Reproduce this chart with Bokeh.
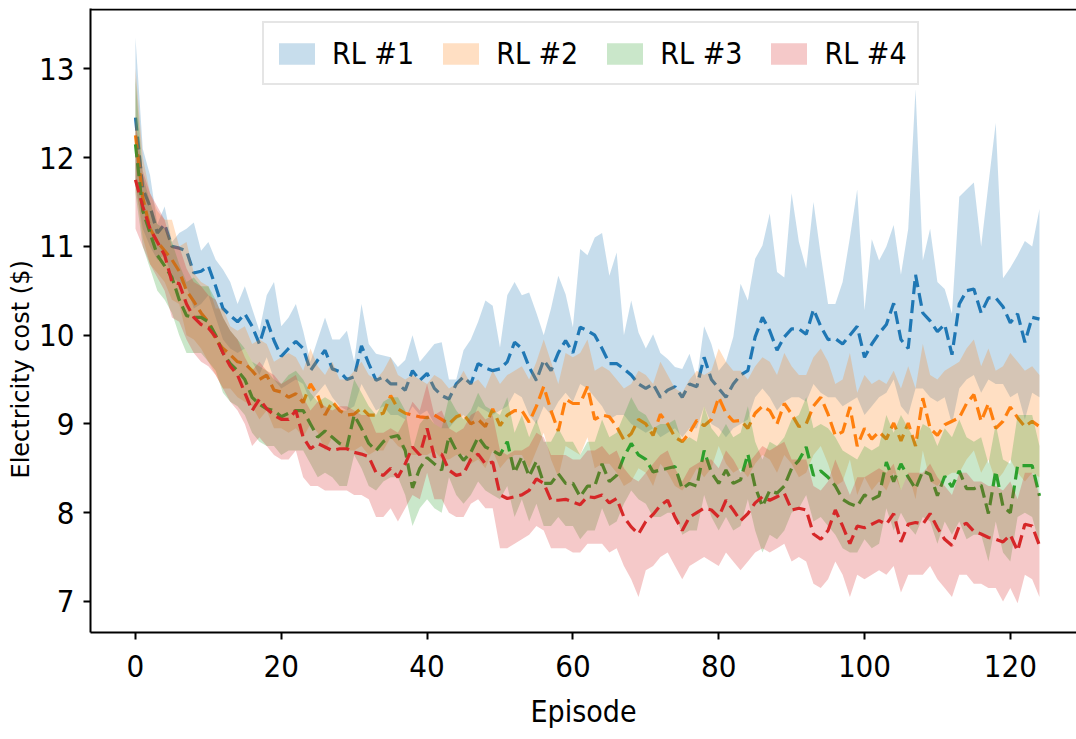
from bokeh.plotting import figure
from bokeh.models import Range1d, FixedTicker, Span, ColumnDataSource, Title
from bokeh.embed import file_html
from bokeh.resources import INLINE

episodes = list(range(125))
x_ticks = [0, 20, 40, 60, 80, 100, 120]
y_ticks = [7, 8, 9, 10, 11, 12, 13]
labels = ["RL #1", "RL #2", "RL #3", "RL #4"]
colors = ["#1f77b4", "#ff7f0e", "#2ca02c", "#d62728"]

rl1_mean = [12.45, 11.65, 11.45, 11.15, 11.25, 11.0, 10.98, 10.95, 10.7, 10.72,
            10.78, 10.55, 10.3, 10.22, 10.15, 10.24, 10.1, 9.9, 10.17, 9.94,
            9.76, 9.85, 9.93, 9.85, 9.6, 9.72, 9.83, 9.62, 9.59, 9.5,
            9.53, 9.88, 9.68, 9.49, 9.53, 9.45, 9.45, 9.38, 9.6, 9.49,
            9.57, 9.4, 9.32, 9.28, 9.45, 9.53, 9.45, 9.68, 9.63, 9.6,
            9.62, 9.7, 9.92, 9.85, 9.64, 9.49, 9.72, 9.6, 9.8, 9.94,
            9.8, 10.09, 10.05, 10.0, 9.85, 9.68, 9.68, 9.62, 9.55, 9.45,
            9.4, 9.45, 9.3, 9.38, 9.42, 9.3, 9.45, 9.42, 9.75, 9.5,
            9.4, 9.3, 9.45, 9.55, 9.6, 9.98, 10.2, 10.05, 9.83, 9.98,
            10.07, 10.07, 10.01, 10.29, 10.1, 9.95, 9.96, 9.9, 10.0, 10.1,
            9.75, 9.9, 10.02, 10.12, 10.36, 9.95, 9.85, 10.68, 10.25, 10.16,
            10.04, 10.12, 9.78, 10.35, 10.5, 10.52, 10.25, 10.42, 10.42, 10.32,
            10.14, 10.24, 9.92, 10.2, 10.18]
rl1_hi = [13.35, 12.1, 11.8, 11.25, 11.45, 11.05, 11.15, 11.2, 11.27, 10.95,
          11.05, 10.85, 10.74, 10.6, 10.35, 10.55, 10.3, 10.05, 10.45, 10.6,
          10.1, 10.2, 10.35, 10.05, 9.7, 9.95, 10.2, 9.95, 9.95, 10.05,
          9.7, 10.35, 9.9, 9.79, 9.77, 9.75, 9.64, 9.72, 10.0, 9.7,
          9.8, 9.9, 9.92, 9.5, 9.5, 9.83, 9.95, 10.15, 10.39, 10.33,
          9.86, 10.45, 10.6, 10.45, 10.48, 10.25, 10.0, 10.3, 10.67, 10.46,
          10.09, 10.97, 10.9, 11.1, 11.15, 10.67, 10.93, 10.0, 10.39, 10.03,
          9.85, 10.01, 9.8, 9.73, 9.64, 9.62, 9.79, 9.5, 10.1, 9.9,
          9.6, 9.7, 9.98, 10.58, 10.39, 10.86, 11.01, 11.37, 10.71, 10.65,
          11.6, 11.05, 10.75, 11.5, 10.9, 10.35, 10.35, 10.6, 11.1, 11.64,
          10.28, 11.08, 10.84, 11.0, 11.24, 10.68, 11.2, 12.77, 10.84, 11.2,
          10.6, 10.52, 10.24, 11.56, 11.64, 11.72, 11.0, 11.7, 12.39, 10.64,
          10.76, 10.9, 11.06, 11.0, 11.42]
rl1_lo = [11.7, 11.2, 11.0, 10.85, 10.9, 10.65, 10.6, 10.55, 10.3, 10.35,
          10.45, 10.2, 9.95, 9.85, 9.8, 9.85, 9.7, 9.55, 9.75, 9.5,
          9.4, 9.45, 9.5, 9.45, 9.25, 9.35, 9.45, 9.3, 9.2, 9.15,
          9.2, 9.45, 9.3, 9.15, 9.2, 9.1, 9.1, 9.05, 9.2, 9.1,
          9.15, 9.0, 8.95, 8.95, 9.05, 9.1, 9.0, 9.2, 9.15, 9.1,
          9.15, 9.2, 9.35, 9.3, 9.1, 9.0, 9.2, 9.1, 9.25, 9.35,
          9.25, 9.45, 9.4, 9.3, 9.2, 9.05, 9.1, 9.1, 9.0, 8.95,
          8.9, 8.95, 8.85, 8.9, 8.95, 8.85, 8.95, 8.95, 9.2, 9.0,
          8.95, 8.85, 8.95, 9.0, 9.05, 9.3, 9.4, 9.3, 9.15, 9.25,
          9.3, 9.3, 9.25, 9.45, 9.35, 9.3, 9.3, 9.2, 9.25, 9.3,
          9.1, 9.2, 9.3, 9.35, 9.5, 9.2, 9.1, 9.4, 9.4, 9.3,
          9.25, 9.3, 9.0, 9.4, 9.5, 9.55, 9.35, 9.5, 9.45, 9.45,
          9.3, 9.35, 9.05, 9.35, 9.3]

rl2_mean = [12.25, 11.55, 11.2, 11.05, 10.95, 10.85, 10.72, 10.5, 10.38, 10.25,
            10.15, 9.95, 9.85, 9.78, 9.7, 9.68, 9.6, 9.5, 9.55, 9.38,
            9.36, 9.3, 9.34, 9.24, 9.45, 9.32, 9.1, 9.25, 9.15, 9.1,
            9.11, 9.18, 9.1, 9.1, 9.12, 9.32, 9.17, 9.12, 9.1, 9.08,
            9.07, 9.1, 9.05, 9.0, 9.08, 9.11, 9.0, 9.05, 8.97, 9.17,
            8.98, 9.1, 9.15, 9.15, 9.02, 9.2, 9.42, 9.15, 8.92, 9.28,
            9.23, 9.23, 9.42, 9.05, 9.1, 9.08, 8.97, 8.82, 8.89, 9.05,
            9.0, 8.87, 9.11, 9.0, 8.85, 8.8, 8.9, 9.04, 8.98, 9.05,
            9.3, 9.12, 9.03, 9.04, 8.95, 9.12, 9.2, 9.15, 9.0, 9.23,
            9.11, 8.97, 9.0, 9.2, 9.3, 9.11, 8.87, 8.91, 9.19, 8.75,
            8.95, 8.83, 8.91, 8.83, 9.01, 8.81, 9.01, 8.75, 9.29, 8.95,
            8.87, 8.99, 9.03, 9.07, 9.23, 9.33, 9.03, 9.23, 8.95, 9.03,
            9.19, 9.07, 8.97, 9.03, 8.97]
rl2_hi = [13.0, 12.0, 11.6, 11.4, 11.3, 11.3, 11.0, 11.05, 10.7, 10.6,
          10.55, 10.3, 10.3, 10.1, 10.05, 10.1, 9.9, 9.95, 9.9, 9.7,
          9.75, 9.8, 9.75, 9.6, 9.85, 9.65, 9.55, 9.7, 9.5, 9.5,
          9.6, 9.7, 9.55, 9.5, 9.6, 9.75, 9.55, 9.5, 9.55, 9.5,
          9.45, 9.55, 9.5, 9.4, 9.45, 9.6, 9.45, 9.5, 9.4, 9.6,
          9.45, 9.55, 9.6, 9.65, 9.5, 9.7, 9.95, 9.7, 9.45, 9.8,
          9.75, 9.8, 9.95, 9.6, 9.65, 9.6, 9.5, 9.4, 9.45, 9.6,
          9.55, 9.45, 9.7, 9.55, 9.4, 9.35, 9.5, 9.6, 9.55, 9.6,
          9.85, 9.7, 9.6, 9.6, 9.5, 9.65, 9.75, 9.7, 9.55, 9.8,
          9.65, 9.55, 9.55, 9.75, 9.85, 9.7, 9.45, 9.5, 9.8, 9.35,
          9.55, 9.45, 9.5, 9.45, 9.6, 9.4, 9.65, 9.4, 9.9, 9.55,
          9.5, 9.6, 9.65, 9.7, 9.85, 9.95, 9.65, 9.85, 9.6, 9.65,
          9.8, 9.7, 9.6, 9.65, 9.55]
rl2_lo = [11.7, 11.1, 10.8, 10.7, 10.6, 10.4, 10.35, 10.0, 9.95, 9.85,
          9.7, 9.55, 9.4, 9.4, 9.3, 9.25, 9.2, 9.05, 9.15, 8.95,
          8.95, 8.9, 8.95, 8.85, 9.0, 8.9, 8.7, 8.85, 8.75, 8.7,
          8.7, 8.75, 8.65, 8.7, 8.7, 8.85, 8.75, 8.7, 8.65, 8.65,
          8.65, 8.7, 8.6, 8.6, 8.65, 8.65, 8.55, 8.6, 8.5, 8.7,
          8.5, 8.6, 8.65, 8.65, 8.5, 8.7, 8.9, 8.6, 8.4, 8.75,
          8.7, 8.65, 8.85, 8.5, 8.55, 8.55, 8.45, 8.3, 8.35, 8.5,
          8.45, 8.3, 8.55, 8.45, 8.3, 8.25, 8.35, 8.5, 8.4, 8.5,
          8.75, 8.55, 8.45, 8.5, 8.4, 8.55, 8.65, 8.6, 8.45, 8.65,
          8.55, 8.4, 8.45, 8.65, 8.75, 8.55, 8.3, 8.35, 8.6, 8.2,
          8.4, 8.25, 8.35, 8.25, 8.45, 8.25, 8.45, 8.15, 8.7, 8.35,
          8.3, 8.4, 8.45, 8.45, 8.6, 8.7, 8.45, 8.6, 8.35, 8.45,
          8.6, 8.45, 8.35, 8.45, 8.4]

rl3_mean = [12.15, 11.4, 11.15, 10.9, 10.78, 10.65, 10.4, 10.22, 10.2, 10.2,
            10.15, 10.0, 9.8, 9.68, 9.6, 9.5, 9.3, 9.22, 9.17, 9.15,
            9.08, 9.12, 9.15, 9.15, 9.0, 8.85, 8.92, 8.85, 8.78, 8.74,
            9.1, 8.95, 8.78, 8.7, 8.8, 8.85, 8.87, 8.7, 8.28, 8.5,
            8.62, 8.55, 8.48, 8.86, 8.7, 8.59, 8.68, 8.85, 8.74, 8.7,
            8.65, 8.8, 8.45, 8.63, 8.41, 8.58, 8.33, 8.33, 8.44, 8.33,
            8.33, 8.18, 8.3, 8.3, 8.55, 8.35, 8.42, 8.63, 8.78, 8.65,
            8.6, 8.46, 8.48, 8.5, 8.52, 8.27, 8.33, 8.3, 8.7, 8.45,
            8.33, 8.48, 8.33, 8.37, 8.66, 8.29, 8.07, 8.25, 8.22, 8.3,
            8.5, 8.59, 8.74, 8.42, 8.47, 8.4, 8.3, 8.15, 8.1, 8.07,
            8.2, 8.15, 8.19, 8.57, 8.35, 8.55, 8.4, 8.27, 8.47, 8.43,
            8.19, 8.41, 8.29, 8.47, 8.27, 8.27, 8.31, 7.99, 8.47, 8.07,
            8.0, 8.53, 8.53, 8.53, 8.19]
rl3_hi = [12.9, 11.8, 11.5, 11.25, 11.2, 11.05, 10.8, 10.6, 10.65, 10.55,
          10.55, 10.4, 10.2, 10.05, 9.95, 9.85, 9.7, 9.65, 9.6, 9.5,
          9.45, 9.55, 9.6, 9.5, 9.35, 9.25, 9.3, 9.25, 9.15, 9.15,
          9.5, 9.35, 9.2, 9.1, 9.25, 9.3, 9.3, 9.15, 8.7, 9.0,
          9.1, 9.0, 8.95, 9.3, 9.15, 9.05, 9.15, 9.35, 9.2, 9.15,
          9.1, 9.3, 8.9, 9.1, 8.85, 9.05, 8.8, 8.8, 8.95, 8.8,
          8.8, 8.65, 8.8, 8.8, 9.05, 8.85, 8.9, 9.1, 9.3, 9.15,
          9.1, 8.95, 9.0, 9.0, 9.05, 8.8, 8.85, 8.8, 9.2, 8.95,
          8.85, 9.0, 8.85, 8.9, 9.2, 8.8, 8.6, 8.8, 8.75, 8.85,
          9.05, 9.1, 9.3, 8.95, 9.0, 8.95, 8.85, 8.7, 8.65, 8.6,
          8.75, 8.7, 8.75, 9.1, 8.9, 9.1, 8.95, 8.8, 9.0, 8.95,
          8.75, 8.95, 8.85, 9.05, 8.85, 8.8, 8.85, 8.55, 9.0, 8.6,
          8.55, 9.1, 9.1, 9.1, 8.75]
rl3_lo = [11.6, 11.0, 10.75, 10.5, 10.4, 10.25, 10.0, 9.8, 9.8, 9.8,
          9.7, 9.6, 9.35, 9.25, 9.2, 9.1, 8.9, 8.8, 8.75, 8.75,
          8.65, 8.7, 8.7, 8.7, 8.55, 8.4, 8.45, 8.4, 8.3, 8.3,
          8.65, 8.5, 8.3, 8.25, 8.35, 8.4, 8.4, 8.2, 7.85, 8.05,
          8.15, 8.05, 8.0, 8.4, 8.2, 8.1, 8.2, 8.35, 8.25, 8.2,
          8.15, 8.3, 7.95, 8.15, 7.9, 8.1, 7.85, 7.85, 7.95, 7.85,
          7.85, 7.7, 7.8, 7.8, 8.05, 7.85, 7.9, 8.1, 8.25, 8.15,
          8.1, 7.95, 7.95, 8.0, 8.0, 7.75, 7.8, 7.8, 8.2, 7.95,
          7.8, 7.95, 7.8, 7.85, 8.15, 7.8, 7.55, 7.75, 7.7, 7.8,
          8.0, 8.05, 8.2, 7.9, 7.95, 7.85, 7.75, 7.6, 7.55, 7.55,
          7.7, 7.6, 7.65, 8.05, 7.8, 8.0, 7.85, 7.75, 7.95, 7.9,
          7.65, 7.9, 7.75, 7.9, 7.7, 7.75, 7.75, 7.45, 7.9, 7.55,
          7.45, 7.95, 8.0, 7.95, 7.65]

rl4_mean = [11.75, 11.45, 11.2, 11.05, 10.9, 10.6, 10.58, 10.35, 10.2, 10.12,
            10.08, 9.98, 9.8, 9.65, 9.55, 9.35, 9.15, 9.28, 9.17, 9.1,
            9.05, 9.05, 9.15, 8.85, 8.72, 8.78, 8.74, 8.7, 8.72, 8.72,
            8.68, 8.66, 8.63, 8.45, 8.42, 8.5, 8.4, 8.55, 8.74, 8.65,
            8.95, 8.63, 8.66, 8.48, 8.42, 8.44, 8.6, 8.66, 8.55, 8.57,
            8.2, 8.16, 8.18, 8.2, 8.25, 8.38, 8.33, 8.14, 8.14, 8.15,
            8.12, 8.09, 8.18, 8.17, 8.2, 8.11, 8.16, 7.95, 7.84, 7.76,
            7.9, 7.98, 8.08, 8.14, 7.95, 7.8, 7.95, 8.0, 8.05, 8.03,
            7.95, 8.14, 8.03, 7.91, 7.99, 8.11, 8.18, 8.14, 8.18, 8.22,
            8.03, 8.05, 8.03, 7.76, 7.7, 7.8, 8.03, 7.85, 7.65, 7.85,
            7.83, 7.87, 7.91, 7.87, 7.99, 7.67, 7.87, 7.89, 7.87, 7.99,
            7.83, 7.7, 7.63, 7.85, 7.88, 7.79, 7.76, 7.72, 7.7, 7.67,
            7.75, 7.57, 7.87, 7.85, 7.63]
rl4_hi = [12.4, 11.85, 11.6, 11.45, 11.3, 11.0, 11.0, 10.75, 10.6, 10.55,
          10.45, 10.4, 10.2, 10.05, 9.95, 9.75, 9.6, 9.7, 9.6, 9.55,
          9.45, 9.5, 9.55, 9.3, 9.15, 9.25, 9.2, 9.15, 9.2, 9.2,
          9.15, 9.1, 9.1, 8.9, 8.9, 8.95, 8.9, 9.05, 9.25, 9.15,
          9.45, 9.1, 9.15, 8.95, 8.9, 8.95, 9.1, 9.15, 9.05, 9.1,
          8.7, 8.65, 8.7, 8.7, 8.75, 8.9, 8.85, 8.65, 8.65, 8.65,
          8.6, 8.6, 8.7, 8.7, 8.75, 8.65, 8.7, 8.5, 8.4, 8.35,
          8.45, 8.55, 8.65, 8.7, 8.5, 8.35, 8.5, 8.55, 8.6, 8.6,
          8.5, 8.7, 8.6, 8.45, 8.55, 8.65, 8.75, 8.7, 8.75, 8.8,
          8.6, 8.6, 8.6, 8.3, 8.25, 8.35, 8.6, 8.4, 8.2, 8.4,
          8.4, 8.45, 8.5, 8.45, 8.55, 8.25, 8.45, 8.45, 8.45, 8.55,
          8.4, 8.3, 8.2, 8.45, 8.45, 8.35, 8.35, 8.3, 8.3, 8.25,
          8.35, 8.15, 8.45, 8.45, 8.2]
rl4_lo = [11.2, 11.0, 10.8, 10.65, 10.5, 10.2, 10.15, 9.95, 9.8, 9.7,
          9.65, 9.55, 9.4, 9.25, 9.15, 9.0, 8.75, 8.85, 8.75, 8.65,
          8.6, 8.6, 8.7, 8.4, 8.3, 8.3, 8.25, 8.25, 8.25, 8.25,
          8.2, 8.2, 8.15, 7.95, 7.95, 8.05, 7.9, 8.05, 8.2, 8.15,
          8.45, 8.15, 8.15, 8.0, 7.95, 7.95, 8.1, 8.15, 8.05, 8.05,
          7.6, 7.6, 7.65, 7.7, 7.75, 7.85, 7.8, 7.6, 7.6, 7.6,
          7.55, 7.55, 7.65, 7.65, 7.65, 7.55, 7.6, 7.4, 7.25, 7.05,
          7.35, 7.4, 7.5, 7.55, 7.4, 7.25, 7.4, 7.45, 7.5, 7.45,
          7.4, 7.55, 7.45, 7.35, 7.45, 7.55, 7.6, 7.55, 7.6, 7.65,
          7.45, 7.5, 7.45, 7.2, 7.15, 7.25, 7.45, 7.3, 7.05, 7.3,
          7.25, 7.3, 7.35, 7.3, 7.4, 7.1, 7.3, 7.3, 7.3, 7.4,
          7.25, 7.15, 7.05, 7.3, 7.3, 7.2, 7.2, 7.15, 7.15, 7.0,
          7.15, 6.98, 7.3, 7.25, 7.05]

series = [
    (rl1_mean, rl1_lo, rl1_hi),
    (rl2_mean, rl2_lo, rl2_hi),
    (rl3_mean, rl3_lo, rl3_hi),
    (rl4_mean, rl4_lo, rl4_hi),
]

TICK_FONT = "DejaVu Sans Condensed, Liberation Sans"

p = figure(width=1076, height=739, output_backend="svg", toolbar_location=None,
           x_range=Range1d(-6.17, 129.08), y_range=Range1d(6.65, 13.68),
           min_border_left=90, min_border_right=0, min_border_top=8,
           min_border_bottom=107)
p.outline_line_color = None
p.background_fill_color = "white"
p.border_fill_color = "white"
p.xgrid.visible = False
p.ygrid.visible = False

for (m, lo, hi), lab, col in zip(series, labels, colors):
    src = ColumnDataSource(dict(x=episodes, m=m, lo=lo, hi=hi))
    p.varea(x="x", y1="lo", y2="hi", source=src, fill_color=col,
            fill_alpha=0.25, legend_label=lab)
    p.line(x="x", y="m", source=src, line_color=col, line_width=3.2,
           line_dash="13 6")

p.add_layout(Span(location=13.669, dimension="width", line_color="black",
                  line_width=2))

for ax in (p.xaxis[0], p.yaxis[0]):
    ax.axis_line_width = 2
    ax.axis_line_color = "black"
    ax.major_tick_line_width = 2
    ax.major_tick_out = 7
    ax.major_tick_in = 0
    ax.minor_tick_line_color = None
    ax.major_label_text_font = TICK_FONT
    ax.major_label_text_font_size = "31px"
    ax.major_label_text_color = "black"
    ax.axis_label_text_font_style = "normal"
    ax.axis_label_text_color = "black"

p.xaxis.ticker = FixedTicker(ticks=x_ticks)
p.yaxis.ticker = FixedTicker(ticks=y_ticks)
p.xaxis.major_label_standoff = 15
p.yaxis.major_label_standoff = 9
p.xaxis.axis_label = "Episode"
p.xaxis.axis_label_text_font = TICK_FONT
p.xaxis.axis_label_text_font_size = "30px"
p.xaxis.axis_label_standoff = 14

# y title: placed as a side title so it can sit where the reference puts it
p.add_layout(Title(text="Electricity cost ($)", align="left", offset=154,
                   text_font="DejaVu Sans", text_font_size="24px",
                   text_font_style="normal", text_color="black",
                   standoff=4), "left")

lg = p.legend[0]
lg.location = (172, 547)
lg.orientation = "horizontal"
lg.margin = 0
lg.padding = 10
lg.spacing = 24
lg.glyph_width = 45
lg.glyph_height = 27
lg.label_standoff = 13
lg.label_height = 40
lg.label_text_font = TICK_FONT
lg.label_text_font_size = "30px"
lg.label_text_color = "black"
lg.border_line_color = "#cccccc"
lg.border_line_width = 2
lg.background_fill_alpha = 0.8

open("out.html", "w").write(file_html(p, INLINE))
